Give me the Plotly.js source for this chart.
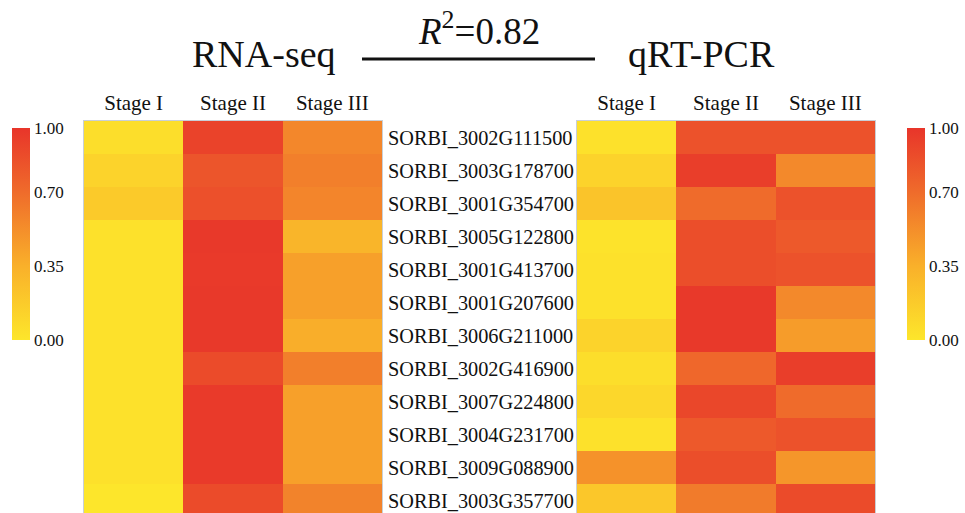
<!DOCTYPE html>
<html>
<head>
<meta charset="utf-8">
<script src="https://cdn.plot.ly/plotly-3.0.1.min.js"></script>
<style>html,body{margin:0;padding:0;background:#fff;}#chart{width:965px;height:513px;}</style>
</head>
<body>
<div id="chart"></div>
<script>
var stages = ['Stage I', 'Stage II', 'Stage III'];
var genes = [
  'SORBI_3002G111500', 'SORBI_3003G178700', 'SORBI_3001G354700', 'SORBI_3005G122800',
  'SORBI_3001G413700', 'SORBI_3001G207600', 'SORBI_3006G211000', 'SORBI_3002G416900',
  'SORBI_3007G224800', 'SORBI_3004G231700', 'SORBI_3009G088900', 'SORBI_3003G357700'
];
// RNA-seq normalized expression, rows = genes, columns = Stage I, II, III
var rnaSeq = [
  [0.05, 0.92, 0.56],
  [0.12, 0.82, 0.60],
  [0.18, 0.85, 0.57],
  [0.03, 0.98, 0.32],
  [0.03, 0.97, 0.43],
  [0.03, 0.98, 0.43],
  [0.03, 0.98, 0.36],
  [0.03, 0.88, 0.60],
  [0.03, 0.97, 0.43],
  [0.03, 0.97, 0.43],
  [0.03, 0.97, 0.43],
  [0.00, 0.88, 0.58]
];
// qRT-PCR normalized expression
var qrtPcr = [
  [0.03, 0.84, 0.84],
  [0.12, 0.95, 0.55],
  [0.22, 0.70, 0.84],
  [0.02, 0.86, 0.80],
  [0.03, 0.86, 0.84],
  [0.03, 0.98, 0.55],
  [0.12, 0.98, 0.45],
  [0.05, 0.72, 0.95],
  [0.10, 0.90, 0.70],
  [0.03, 0.80, 0.84],
  [0.50, 0.86, 0.48],
  [0.20, 0.62, 0.88]
];
var cbTicks = [0, 0.35, 0.7, 1];
var cbText = ['0.00', '0.35', '0.70', '1.00'];

var W = 965, H = 513;
var serif = '"Liberation Serif", "Times New Roman", Times, serif';
var scale = [[0, '#FDE62B'], [0.35, '#F9B02A'], [0.7, '#EF6B2B'], [1, '#E8352A']];

function cb(xpx) {
  return {
    x: xpx / W, xanchor: 'left', xpad: 0,
    y: (H - 234) / H, yanchor: 'middle', ypad: 0,
    thickness: 18, len: 212, lenmode: 'pixels',
    outlinewidth: 0, ticks: '',
    tickvals: cbTicks, ticktext: cbText,
    tickfont: {family: serif, size: 17, color: '#111'}
  };
}

var traces = [
  {type: 'heatmap', x: stages, y: genes, z: rnaSeq, zmin: 0, zmax: 1,
   colorscale: scale, xaxis: 'x', yaxis: 'y', colorbar: cb(12), xgap: 0, ygap: 0},
  {type: 'heatmap', x: stages, y: genes, z: qrtPcr, zmin: 0, zmax: 1,
   colorscale: scale, xaxis: 'x2', yaxis: 'y2', colorbar: cb(907), xgap: 0, ygap: 0}
];

var rowPx = 33;
var plotTop = 121;
var yDomTop = (H - plotTop) / H;
var yBottom = -0.5 + (H - plotTop) / rowPx;

function xax(l, r) {
  return {domain: [l / W, r / W], side: 'top', ticks: '', showgrid: false, zeroline: false,
          showline: true, mirror: true, linecolor: '#c9cfd6', linewidth: 1,
          tickfont: {family: serif, size: 21, color: '#111'}, ticklabelstandoff: 2,
          range: [-0.5, 2.5], fixedrange: true};
}

var layout = {
  width: W, height: H,
  margin: {l: 0, r: 0, t: 0, b: 0},
  paper_bgcolor: '#fff', plot_bgcolor: '#fff',
  font: {family: serif, color: '#111', size: 16},
  showlegend: false,
  xaxis: Object.assign(xax(84, 382), {anchor: 'y'}),
  xaxis2: Object.assign(xax(577, 875), {anchor: 'y2'}),
  yaxis: {domain: [0, yDomTop], anchor: 'x', side: 'right', ticks: '', showgrid: false,
          zeroline: false, showline: true, mirror: true, linecolor: '#c9cfd6', linewidth: 1,
          autorange: false, range: [yBottom, -0.5], ticklabelstandoff: 1,
          tickfont: {family: serif, size: 20.3, color: '#111'}},
  yaxis2: {domain: [0, yDomTop], anchor: 'x2', showticklabels: false, ticks: '', showgrid: false,
           zeroline: false, showline: true, mirror: true, linecolor: '#c9cfd6', linewidth: 1,
           autorange: false, range: [yBottom, -0.5]},
  annotations: [
    {text: 'RNA-seq', xref: 'paper', yref: 'paper', x: 263.5 / W, y: (H - 54) / H,
     xanchor: 'center', yanchor: 'middle', showarrow: false,
     font: {family: serif, size: 38, color: '#111'}},
    {text: 'qRT-PCR', xref: 'paper', yref: 'paper', x: 701.5 / W, y: (H - 54) / H,
     xanchor: 'center', yanchor: 'middle', showarrow: false,
     font: {family: serif, size: 38, color: '#111'}},
    {text: '<i>R</i><sup style="font-size:24px">2</sup>=0.82', xref: 'paper', yref: 'paper', x: 479 / W, y: (H - 28) / H,
     xanchor: 'center', yanchor: 'middle', showarrow: false,
     font: {family: serif, size: 37, color: '#111'}}
  ],
  shapes: [
    {type: 'line', xref: 'paper', yref: 'paper', x0: 362 / W, x1: 595 / W,
     y0: (H - 59) / H, y1: (H - 59) / H, line: {color: '#111', width: 3}}
  ]
};

Plotly.newPlot('chart', traces, layout, {displayModeBar: false, staticPlot: true});
</script>
</body>
</html>
